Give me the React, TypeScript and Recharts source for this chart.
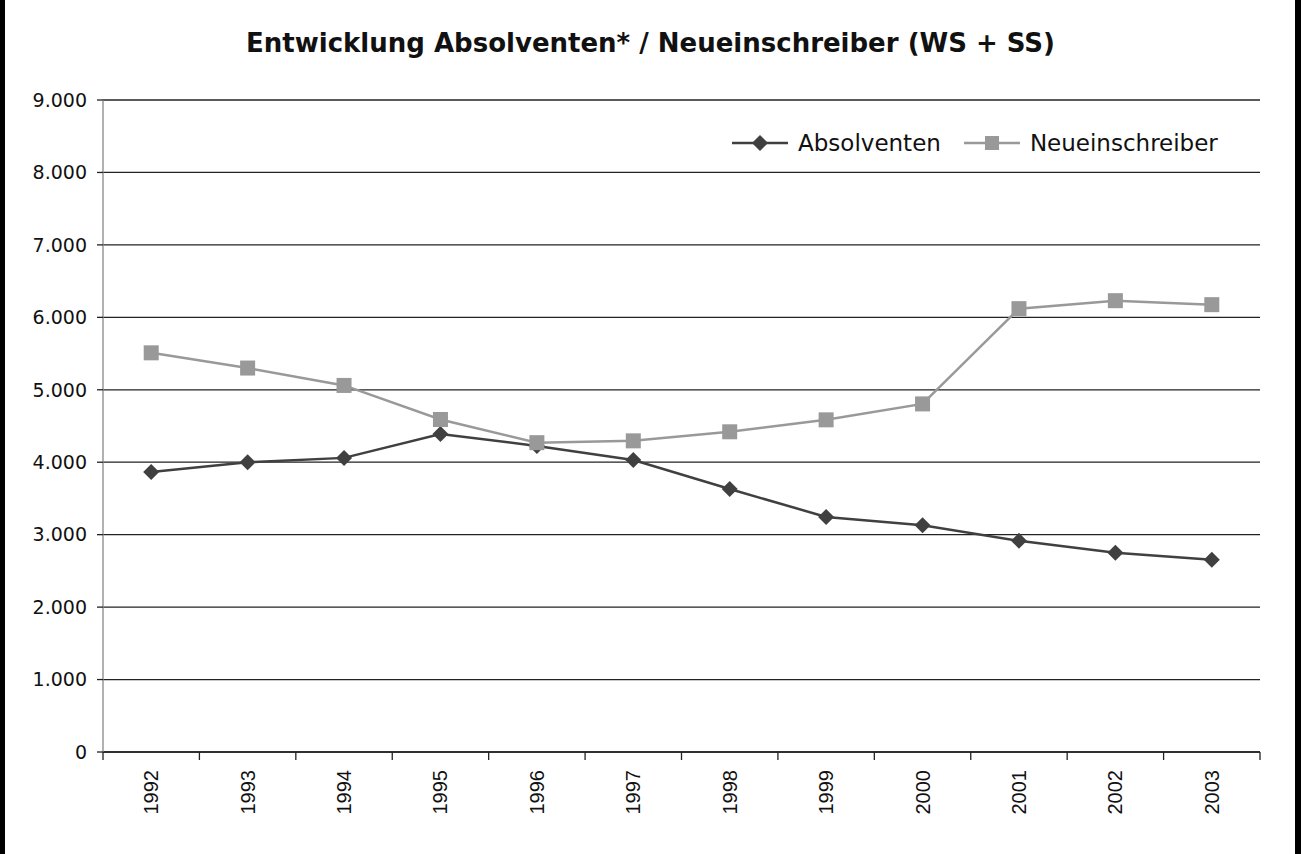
import { LineChart, Line, XAxis, YAxis, CartesianGrid, Legend } from 'recharts'

const years = ['1992', '1993', '1994', '1995', '1996', '1997', '1998', '1999', '2000', '2001', '2002', '2003']
const absolventen = [3865, 4000, 4060, 4390, 4225, 4030, 3630, 3245, 3130, 2915, 2750, 2655]
const neueinschreiber = [5510, 5300, 5060, 4590, 4270, 4295, 4420, 4585, 4805, 6120, 6230, 6175]
const yTicks = [0, 1000, 2000, 3000, 4000, 5000, 6000, 7000, 8000, 9000]

const data = years.map((year, i) => ({
  year,
  absolventen: absolventen[i],
  neueinschreiber: neueinschreiber[i]
}))

const DARK = '#404040'
const LIGHT = '#999999'
const AXIS = '#222'
const labelFont = '"DejaVu Sans", Verdana, sans-serif'

// 1.000-Format wie im Original
const fmt = (v: number) => v.toLocaleString('de-DE')

function Diamond(props: any) {
  const { cx, cy } = props
  if (cx == null || cy == null) return null
  const r = 8
  return <path d={`M${cx},${cy - r}L${cx + r},${cy}L${cx},${cy + r}L${cx - r},${cy}Z`} fill={DARK} />
}

function Square(props: any) {
  const { cx, cy } = props
  if (cx == null || cy == null) return null
  const s = 15
  return <rect x={cx - s / 2} y={cy - s / 2} width={s} height={s} fill={LIGHT} />
}

// Jahreszahl senkrecht, Teilstriche zwischen den Kategorien
function YearTick(props: any) {
  const { x, y, payload, index, visibleTicksCount } = props
  const half = payload.offset || 0
  const isLast = index === visibleTicksCount - 1
  const ty = y + 18
  return (
    <g>
      <line x1={x - half} y1={y} x2={x - half} y2={y + 8} stroke={AXIS} strokeWidth={1.3} />
      {isLast && <line x1={x + half} y1={y} x2={x + half} y2={y + 8} stroke={AXIS} strokeWidth={1.3} />}
      <text
        x={x}
        y={ty}
        transform={`rotate(-90, ${x}, ${ty})`}
        textAnchor="end"
        dominantBaseline="central"
        fill="#111"
        fontSize={20}
        fontFamily='"Liberation Sans", Arial, sans-serif'
      >
        {payload.value}
      </text>
    </g>
  )
}

function LegendBox() {
  const items = [
    { name: 'Absolventen', color: DARK, marker: 'diamond' },
    { name: 'Neueinschreiber', color: LIGHT, marker: 'square' }
  ]
  return (
    <div style={{ display: 'flex', alignItems: 'center', fontFamily: labelFont, fontSize: 23, color: '#111' }}>
      {items.map((it, i) => (
        <div key={it.name} style={{ display: 'flex', alignItems: 'center', marginLeft: i ? 23 : 0 }}>
          <svg width={56} height={20}>
            <line x1={0} y1={10} x2={56} y2={10} stroke={it.color} strokeWidth={2.5} />
            {it.marker === 'diamond' ? (
              <path d="M28,2L36,10L28,18L20,10Z" fill={it.color} />
            ) : (
              <rect x={21} y={3} width={14} height={14} fill={it.color} />
            )}
          </svg>
          <span style={{ marginLeft: 10 }}>{it.name}</span>
        </div>
      ))}
    </div>
  )
}

export default function App() {
  return (
    <div style={{ position: 'absolute', left: 0, top: 0, width: 1301, height: 854, background: '#fff' }}>
      <div style={{ position: 'absolute', left: 0, top: 0, width: 5, height: 854, background: '#000' }} />
      <div style={{ position: 'absolute', right: 0, top: 0, width: 6, height: 854, background: '#000' }} />
      <div
        style={{
          position: 'absolute',
          left: 0,
          top: 28,
          width: 1301,
          textAlign: 'center',
          fontFamily: labelFont,
          fontWeight: 700,
          fontSize: 26,
          color: '#111'
        }}
      >
        Entwicklung Absolventen* / Neueinschreiber (WS + SS)
      </div>
      <LineChart width={1301} height={854} data={data} margin={{ top: 100, right: 41, bottom: 0, left: 0 }}>
        <CartesianGrid vertical={false} stroke={AXIS} strokeWidth={1.3} />
        <XAxis
          dataKey="year"
          scale="band"
          interval={0}
          tickLine={false}
          tickSize={0}
          tickMargin={0}
          axisLine={{ stroke: AXIS, strokeWidth: 1.3 }}
          tick={<YearTick />}
          height={102}
        />
        <YAxis
          domain={[0, 9000]}
          ticks={yTicks}
          tickFormatter={fmt}
          width={103}
          tickSize={6}
          tickMargin={10}
          tick={{ fill: '#111', fontSize: 19, fontFamily: labelFont }}
          tickLine={{ stroke: AXIS, strokeWidth: 1.3 }}
          axisLine={{ stroke: '#888', strokeWidth: 1.3 }}
        />
        <Legend
          layout="horizontal"
          align="center"
          verticalAlign="middle"
          content={() => <LegendBox />}
          wrapperStyle={{ top: 130, left: 732, width: 'auto' }}
        />
        <Line
          dataKey="absolventen"
          name="Absolventen"
          stroke={DARK}
          strokeWidth={2.5}
          dot={<Diamond />}
          activeDot={false}
          isAnimationActive={false}
        />
        <Line
          dataKey="neueinschreiber"
          name="Neueinschreiber"
          stroke={LIGHT}
          strokeWidth={2.5}
          dot={<Square />}
          activeDot={false}
          isAnimationActive={false}
        />
      </LineChart>
    </div>
  )
}
